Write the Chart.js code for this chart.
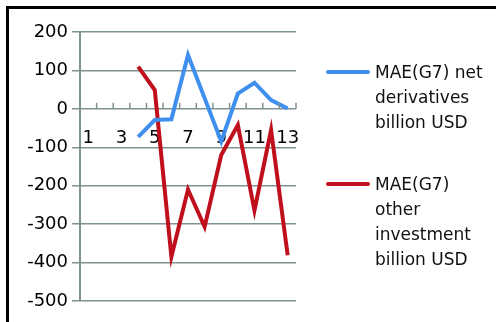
<!DOCTYPE html>
<html>
<head>
<meta charset="utf-8">
<script src="https://cdn.jsdelivr.net/npm/chart.js@4.4.1/dist/chart.umd.min.js"></script>
<style>
  html, body { margin: 0; padding: 0; background: #fff; }
  #wrap { position: relative; width: 496px; height: 322px; overflow: hidden; }
  #frame { position: absolute; left: 6px; top: 6px; width: 600px; height: 400px;
           border-top: 3px solid #000; border-left: 3px solid #000; }
  #chart { position: absolute; left: 0; top: 0; }
  .leg { position: absolute; font-family: "DejaVu Sans", sans-serif; font-size: 17px;
         line-height: 25px; color: #111; }
  .leg i { position: absolute; left: -49px; top: 10px; width: 44px; height: 4px; border-radius: 2px; }
</style>
</head>
<body>
<div id="wrap">
  <div id="frame"></div>
  <canvas id="chart" width="496" height="322"></canvas>
  <div class="leg" style="left:375px; top:60px;"><i style="background:#3f8fef"></i>MAE(G7) net<br>derivatives<br>billion USD</div>
  <div class="leg" style="left:375px; top:172px;"><i style="background:#c0101e"></i>MAE(G7)<br>other<br>investment<br>billion USD</div>
</div>
<script>
// periods 1..13, values in billion USD
const periods = ['1', '2', '3', '4', '5', '6', '7', '8', '9', '10', '11', '12', '13'];
const netDerivatives = [null, null, null, -73, -29, -27, 140, 28, -85, 40, 68, 23, 1];
const otherInvestment = [null, null, null, 110, 49, -385, -210, -307, -120, -42, -264, -55, -381];
const yMin = -500;
const yMax = 200;
const yStep = 100;

const axisGray = '#7f9191';

// small upward tick marks on the category axis, between categories
const upTicks = {
    id: 'upTicks',
    afterDraw(chart) {
        const xs = chart.scales.x;
        const y0 = chart.scales.y.getPixelForValue(0);
        const ctx = chart.ctx;
        ctx.save();
        ctx.strokeStyle = axisGray;
        ctx.lineWidth = 1.5;
        for (let i = 0; i <= periods.length; i++) {
            const px = xs.getPixelForValue(i - 0.5);
            ctx.beginPath();
            ctx.moveTo(px, y0);
            ctx.lineTo(px, y0 - 6);
            ctx.stroke();
        }
        ctx.restore();
    }
};

new Chart(document.getElementById('chart'), {
    type: 'line',
    data: {
        labels: periods,
        datasets: [
            {
                label: 'MAE(G7) net derivatives billion USD',
                data: netDerivatives,
                borderColor: '#3f8fef',
                borderWidth: 4,
                pointRadius: 0,
                tension: 0
            },
            {
                label: 'MAE(G7) other investment billion USD',
                data: otherInvestment,
                borderColor: '#c0101e',
                borderWidth: 4,
                pointRadius: 0,
                tension: 0
            }
        ]
    },
    options: {
        responsive: false,
        animation: false,
        layout: { padding: { left: 0, top: 32, right: 200, bottom: 21 } },
        plugins: { legend: { display: false }, tooltip: { enabled: false } },
        scales: {
            x: {
                position: { y: 0 },
                offset: true,
                grid: { display: false, offset: true },
                border: { display: false },
                ticks: {
                    color: '#000',
                    font: { family: 'DejaVu Sans', size: 18 },
                    maxRotation: 0,
                    autoSkip: true,
                    callback: (v, i) => (i % 2 === 0 ? periods[i] : ''),
                    padding: 11
                }
            },
            y: {
                min: yMin,
                max: yMax,
                afterFit: s => { s.width = 80; },
                grid: { color: axisGray, lineWidth: 1.5, tickLength: 8 },
                border: { color: axisGray, width: 2 },
                ticks: {
                    stepSize: yStep,
                    color: '#000',
                    font: { family: 'DejaVu Sans', size: 18 },
                    padding: 4
                }
            }
        }
    },
    plugins: [upTicks]
});
</script>
</body>
</html>
